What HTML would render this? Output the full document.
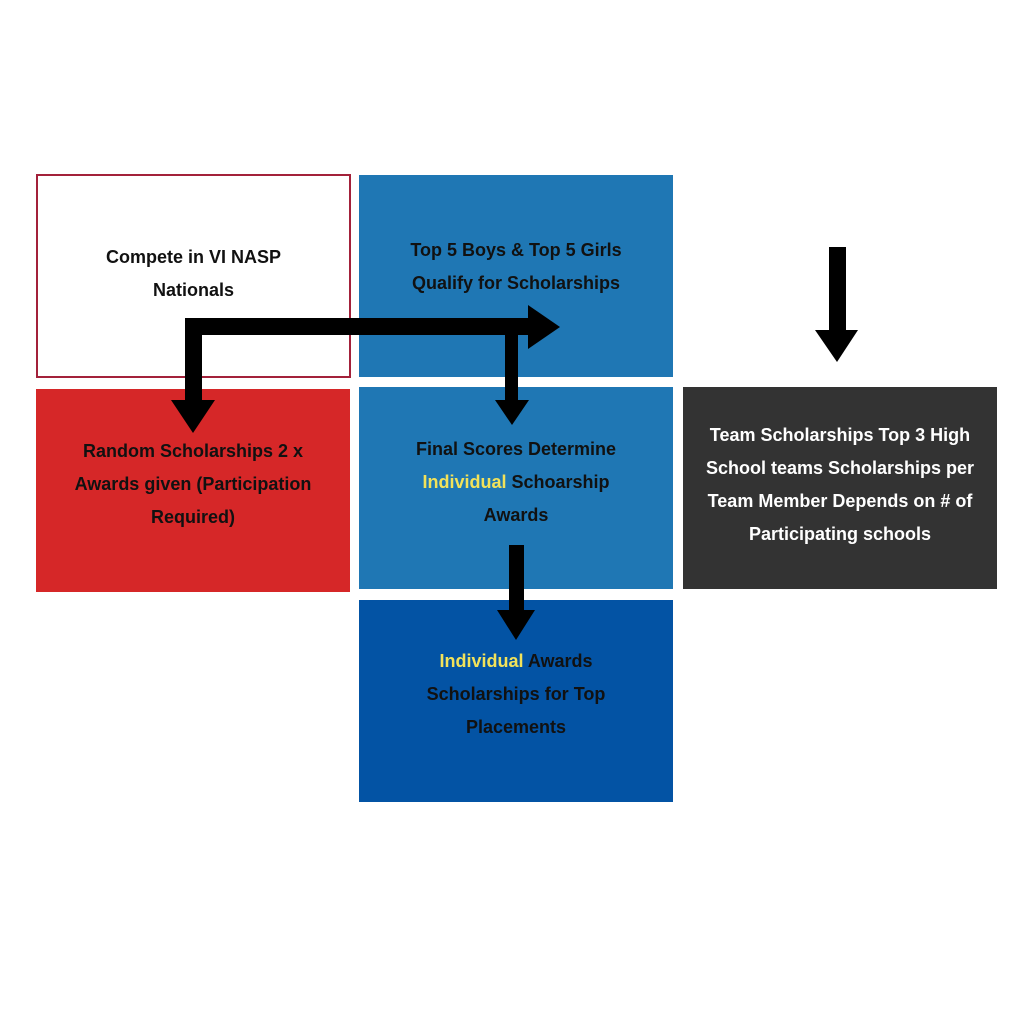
<!DOCTYPE html>
<html><head><style>
body{margin:0;width:1024px;height:1024px;background:#fff;position:relative;font-family:"Liberation Sans",sans-serif;overflow:hidden}
.b{position:absolute;display:flex;align-items:center;justify-content:center;text-align:center;font-weight:bold;font-size:18px;line-height:33px;color:#111;box-sizing:border-box;padding:0 14px}
.y{color:#f2e25a}
</style></head><body>
<div class="b" style="left:36px;top:174px;width:315px;height:204px;border:2px solid #a3213a;padding-bottom:4px"><div>Compete in VI NASP<br>Nationals</div></div>
<div class="b" style="left:359px;top:175px;width:314px;height:202px;background:#1f77b4;padding-bottom:18px"><div>Top 5 Boys &amp; Top 5 Girls<br>Qualify for Scholarships</div></div>
<div class="b" style="left:36px;top:389px;width:314px;height:203px;background:#d62728;padding-bottom:12px"><div>Random Scholarships 2 x Awards given (Participation Required)</div></div>
<div class="b" style="left:359px;top:387px;width:314px;height:202px;background:#1f77b4;padding:0 40px 12px"><div>Final Scores Determine <span class="y">Individual</span> Schoarship Awards</div></div>
<div class="b" style="left:683px;top:387px;width:314px;height:202px;background:#333;color:#fff;padding:0 8px 6px"><div>Team Scholarships Top 3 High School teams Scholarships per Team Member Depends on # of Participating schools</div></div>
<div class="b" style="left:359px;top:600px;width:314px;height:202px;background:#0353a4;padding:0 50px 14px"><div><span class="y">Individual</span> Awards Scholarships for Top Placements</div></div>
<svg width="1024" height="1024" style="position:absolute;left:0;top:0">
<g fill="#000">
<rect x="185" y="318" width="347" height="17"/>
<polygon points="528,305 560,327 528,349"/>
<rect x="185" y="318" width="17" height="84"/>
<polygon points="171,400 215,400 193,433"/>
<rect x="505" y="318" width="13" height="84"/>
<polygon points="495,400 529,400 512,425"/>
<rect x="829" y="247" width="17" height="85"/>
<polygon points="815,330 858,330 837,362"/>
<rect x="509" y="545" width="15" height="67"/>
<polygon points="497,610 535,610 516,640"/>
</g></svg>
</body></html>
